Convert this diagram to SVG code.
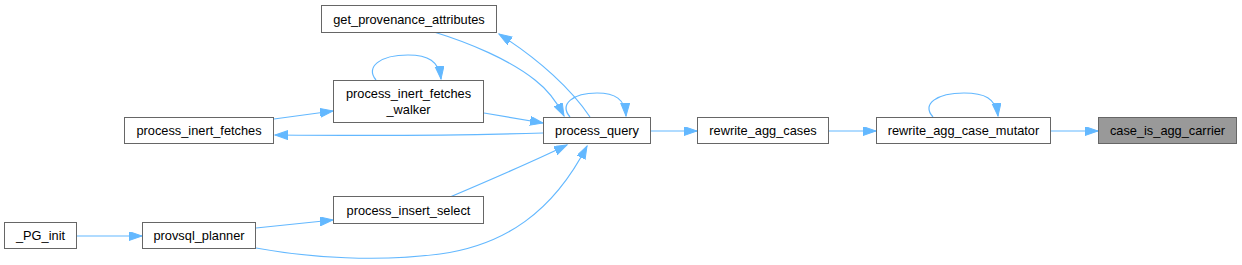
<svg xmlns="http://www.w3.org/2000/svg" width="1242" height="265" viewBox="0 0 1242 265">
<style>
.box{fill:#ffffff;stroke:#666666;stroke-width:1}
.hl{fill:#999999;stroke:#666666;stroke-width:1}
.lbl{font-family:"Liberation Sans",Arial,sans-serif;font-size:12.8px;fill:#000000;text-anchor:middle}
.edge{fill:none;stroke:#63b8ff;stroke-width:1.2;marker-end:url(#arr)}
</style>
<defs>
<marker id="arr" markerUnits="userSpaceOnUse" markerWidth="15" markerHeight="11" refX="13" refY="4.5" orient="auto">
<path d="M0,0 L13,4.5 L0,9 z" fill="#63b8ff" stroke="#63b8ff" stroke-width="1"/>
</marker>
</defs>
<rect width="1242" height="265" fill="#ffffff"/>
<g id="edges">
<path class="edge" d="M1051,131 L1098,131"/>
<path class="edge" d="M829,131 L876,131"/>
<path class="edge" d="M651,131 L697,131"/>
<path class="edge" d="M933,117 C921,104 937,93 964,93 C984,93 996,98 998,116"/>
<path class="edge" d="M570,117 C559,104 573,93 597,93 C615,93 625,99 626,116"/>
<path class="edge" d="M376,80 C365,67 380,55 408,55 C428,55 439,61 441,79"/>
<path class="edge" d="M274,119 L333,111"/>
<path class="edge" d="M484,113 L543,123"/>
<path class="edge" d="M543,133 C480,135 380,136 275,135"/>
<path class="edge" d="M434,32 C470,43 510,60 535,80 C548,90 557,102 564,116"/>
<path class="edge" d="M590,117 C572,90 540,60 499,34"/>
<path class="edge" d="M450,197 C490,180 530,163 567,145"/>
<path class="edge" d="M256,228 L333,220"/>
<path class="edge" d="M256,248 C310,258 380,262 440,254 C505,245 553,212 587,146"/>
<path class="edge" d="M77,236 L142,236"/>
</g>
<g id="node_case_is_agg_carrier">
<rect class="hl" x="1098.5" y="117.5" width="138" height="26"/>
<text class="lbl" x="1167.5" y="135">case_is_agg_carrier</text>
</g>
<g id="node_rewrite_agg_case_mutator">
<rect class="box" x="876.5" y="117.5" width="174" height="26"/>
<text class="lbl" x="963.5" y="135">rewrite_agg_case_mutator</text>
</g>
<g id="node_rewrite_agg_cases">
<rect class="box" x="697.5" y="117.5" width="131" height="26"/>
<text class="lbl" x="763" y="135">rewrite_agg_cases</text>
</g>
<g id="node_process_query">
<rect class="box" x="543.5" y="117.5" width="107" height="26"/>
<text class="lbl" x="597" y="135">process_query</text>
</g>
<g id="node_get_provenance_attributes">
<rect class="box" x="321.5" y="5.5" width="175" height="27"/>
<text class="lbl" x="409" y="23.5">get_provenance_attributes</text>
</g>
<g id="node_process_inert_fetches_walker">
<rect class="box" x="333.5" y="80.5" width="150" height="42"/>
<text class="lbl" x="408.5" y="98">process_inert_fetches</text>
<text class="lbl" x="408.5" y="114">_walker</text>
</g>
<g id="node_process_inert_fetches">
<rect class="box" x="124.5" y="117.5" width="149" height="26"/>
<text class="lbl" x="199" y="135">process_inert_fetches</text>
</g>
<g id="node_process_insert_select">
<rect class="box" x="333.5" y="196.5" width="150" height="27"/>
<text class="lbl" x="408.5" y="214.5">process_insert_select</text>
</g>
<g id="node_provsql_planner">
<rect class="box" x="142.5" y="222.5" width="113" height="26"/>
<text class="lbl" x="199" y="240">provsql_planner</text>
</g>
<g id="node_PG_init">
<rect class="box" x="4.5" y="222.5" width="72" height="26"/>
<text class="lbl" x="40.5" y="240">_PG_init</text>
</g>
</svg>
